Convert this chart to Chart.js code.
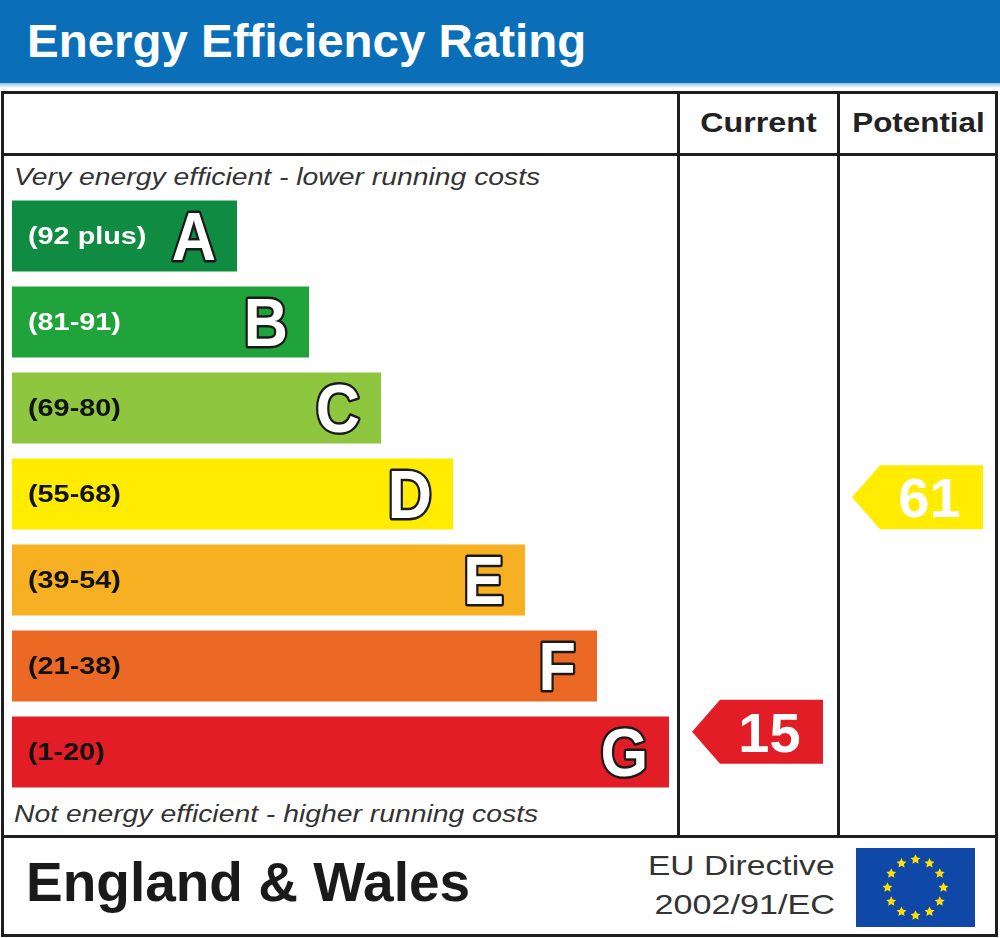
<!DOCTYPE html>
<html>
<head>
<meta charset="utf-8">
<title>Energy Efficiency Rating</title>
<script src="https://cdn.jsdelivr.net/npm/chart.js@4.4.1/dist/chart.umd.min.js"></script>
<style>
  body { margin: 0; background: #fff; }
  #wrap { position: relative; width: 1000px; height: 938px; overflow: hidden;
          font-family: "Liberation Sans", Arial, Helvetica, sans-serif; }
  .t { position: absolute; white-space: nowrap; line-height: 1; }
  .line { position: absolute; background: #1e1e1e; }
  #header { position: absolute; left: 0; top: 0; width: 1000px; height: 83px; background: #0a6fb8; }
  #strip { position: absolute; left: 0; top: 83px; width: 1000px; height: 5px;
           background: linear-gradient(#8fc0e6, #ffffff); }
  #box { position: absolute; left: 1px; top: 91px; width: 997px; height: 846px;
         border: 3px solid #1e1e1e; box-sizing: border-box; }
  #chart { position: absolute; left: 0; top: 0; }
</style>
</head>
<body>
<div id="wrap">
  <div id="header"></div>
  <div id="strip"></div>
  <div class="t" style="left:27px; top:17px; font-size:47px; font-weight:bold; color:#fff; transform:scaleX(1.01); transform-origin:left;">Energy Efficiency Rating</div>

  <div id="box"></div>
  <div class="line" style="left:1px; top:152.5px; width:997px; height:3px;"></div>
  <div class="line" style="left:1px; top:835px; width:997px; height:3px;"></div>
  <div class="line" style="left:677px; top:91px; width:3px; height:746px;"></div>
  <div class="line" style="left:837px; top:91px; width:3px; height:746px;"></div>

  <div class="t" style="left:680px; width:157px; text-align:center; top:109px; font-size:28px; font-weight:bold; color:#222; transform:scaleX(1.15);">Current</div>
  <div class="t" style="left:840px; width:157px; text-align:center; top:109px; font-size:28px; font-weight:bold; color:#222; transform:scaleX(1.12);">Potential</div>

  <div class="t" style="left:14px; top:165px; font-size:24px; font-style:italic; color:#333; transform:scaleX(1.18); transform-origin:left;">Very energy efficient - lower running costs</div>
  <div class="t" style="left:14px; top:802px; font-size:24px; font-style:italic; color:#333; transform:scaleX(1.18); transform-origin:left;">Not energy efficient - higher running costs</div>

  <div class="t" style="left:26px; top:855px; font-size:55px; font-weight:bold; color:#1a1a1a;">England &amp; Wales</div>
  <div class="t" style="right:165px; top:851.5px; font-size:28px; color:#333; transform:scaleX(1.2); transform-origin:right;">EU Directive</div>
  <div class="t" style="right:165px; top:890.5px; font-size:28px; color:#333; transform:scaleX(1.22); transform-origin:right;">2002/91/EC</div>

  <canvas id="chart" width="1000" height="938"></canvas>
</div>

<script>
// rating bands, best to worst
const bands = ['A', 'B', 'C', 'D', 'E', 'F', 'G'];
const rangeLabels = ['(92 plus)', '(81-91)', '(69-80)', '(55-68)', '(39-54)', '(21-38)', '(1-20)'];
const bandLow = [92, 81, 69, 55, 39, 21, 1];
const bandHigh = [100, 91, 80, 68, 54, 38, 20];
// relative bar lengths
const barLengths = [25, 33, 41, 49, 57, 65, 73];
const bandColors = ['#108c42', '#1fa33a', '#8ec63f', '#ffec00', '#f7b022', '#ec6925', '#e21d25'];
const rangeTextColors = ['#ffffff', '#ffffff', '#111111', '#111111', '#111111', '#111111', '#111111'];

const currentRating = 15;
const potentialRating = 61;

const FONT = '"Liberation Sans", Arial, Helvetica, sans-serif';

function bandIndex(v) {
    for (let i = 0; i < bandLow.length; i++) {
        if (v >= bandLow[i]) return i;
    }
    return bandLow.length - 1;
}

// position of a rating on the category axis, inside its band
function ratingPosition(v) {
    const i = bandIndex(v);
    const frac = (v - bandLow[i]) / (bandHigh[i] - bandLow[i]);
    return i + 0.5 - frac;
}

function drawArrow(ctx, left, right, y, color, text) {
    const h = 64;
    const tip = 28;
    ctx.save();
    ctx.beginPath();
    ctx.moveTo(left, y);
    ctx.lineTo(left + tip, y - h / 2);
    ctx.lineTo(right, y - h / 2);
    ctx.lineTo(right, y + h / 2);
    ctx.lineTo(left + tip, y + h / 2);
    ctx.closePath();
    ctx.fillStyle = color;
    ctx.fill();
    ctx.fillStyle = '#ffffff';
    ctx.font = 'bold 56px ' + FONT;
    ctx.textAlign = 'center';
    ctx.textBaseline = 'alphabetic';
    ctx.fillText(text, (left + tip + right) / 2 - 2, y + 20);
    ctx.restore();
}

function drawFlag(ctx) {
    ctx.save();
    ctx.fillStyle = '#1048a8';
    ctx.fillRect(856, 848, 119, 79);
    const cx = 915.5, cy = 887.5, r = 28;
    ctx.fillStyle = '#ffe000';
    for (let k = 0; k < 12; k++) {
        const a = k * Math.PI / 6;
        const sx = cx + r * Math.sin(a), sy = cy - r * Math.cos(a);
        ctx.beginPath();
        for (let p = 0; p < 10; p++) {
            const rr = p % 2 === 0 ? 5.2 : 2.6;
            const b = -Math.PI / 2 + p * Math.PI / 5;
            ctx.lineTo(sx + rr * Math.cos(b), sy + rr * Math.sin(b));
        }
        ctx.closePath();
        ctx.fill();
    }
    ctx.restore();
}

const epcPlugin = {
    id: 'epc',
    afterDatasetsDraw(chart) {
        const ctx = chart.ctx;
        const meta = chart.getDatasetMeta(0);
        meta.data.forEach((bar, i) => {
            // range text
            ctx.save();
            ctx.translate(bar.base + 16, bar.y + 1);
            ctx.scale(1.2, 1);
            ctx.font = 'bold 24px ' + FONT;
            ctx.fillStyle = rangeTextColors[i];
            ctx.textBaseline = 'middle';
            ctx.fillText(rangeLabels[i], 0, 0);
            ctx.restore();

            // band letter, white with a dark outline
            ctx.save();
            ctx.translate(bar.x - 21, bar.y + 24);
            ctx.scale(0.9, 1);
            ctx.font = 'bold 68px ' + FONT;
            ctx.textAlign = 'right';
            ctx.lineJoin = 'round';
            ctx.lineWidth = 5;
            ctx.strokeStyle = '#1a1a1a';
            ctx.strokeText(bands[i], 0, 0);
            ctx.fillStyle = '#ffffff';
            ctx.fillText(bands[i], 0, 0);
            ctx.restore();
        });

        const yScale = chart.scales.y;
        const yc = yScale.getPixelForValue(ratingPosition(currentRating));
        drawArrow(ctx, 692, 823, yc, bandColors[bandIndex(currentRating)], String(currentRating));
        const yp = yScale.getPixelForValue(ratingPosition(potentialRating));
        drawArrow(ctx, 852, 983, yp, bandColors[bandIndex(potentialRating)], String(potentialRating));

        drawFlag(ctx);
    }
};

new Chart(document.getElementById('chart'), {
    type: 'bar',
    data: {
        labels: bands,
        datasets: [{
            data: barLengths,
            backgroundColor: bandColors,
            borderWidth: 0,
            barPercentage: 71 / 86,
            categoryPercentage: 1
        }]
    },
    options: {
        indexAxis: 'y',
        responsive: false,
        animation: false,
        layout: { padding: { left: 12, right: 331, top: 193, bottom: 143 } },
        plugins: { legend: { display: false }, tooltip: { enabled: false } },
        scales: {
            x: { display: false, min: 0, max: 73 },
            y: { display: false }
        }
    },
    plugins: [epcPlugin]
});
</script>
</body>
</html>
